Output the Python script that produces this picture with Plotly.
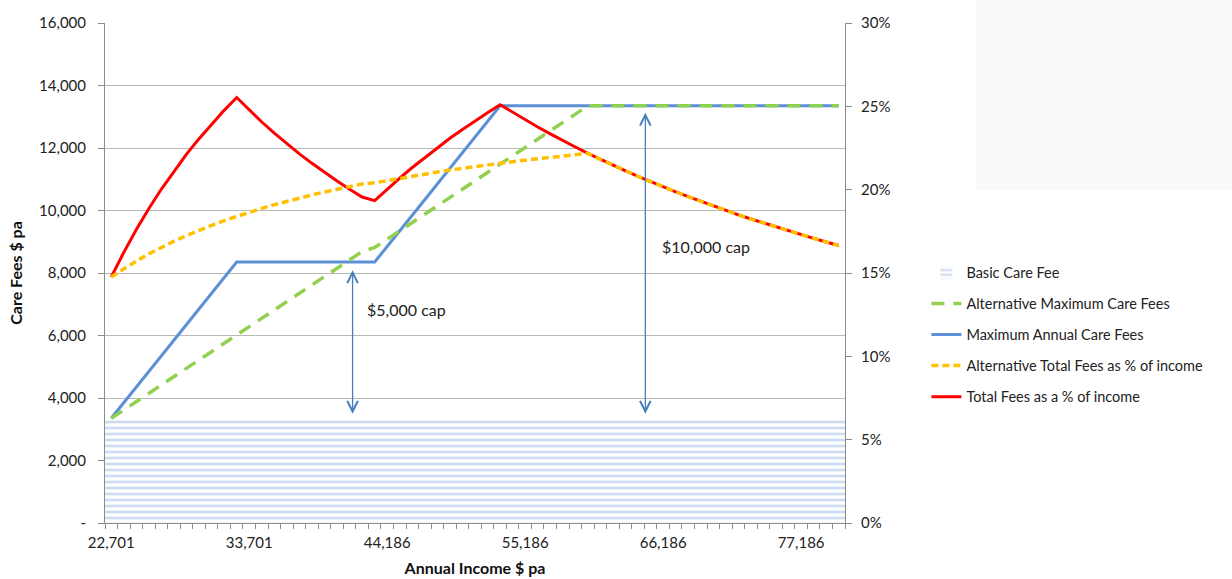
import plotly.graph_objects as go

# Annual income points (category axis)
income = [
    22701, 23701, 24701, 25701, 26701, 27701, 28701, 29701, 30701, 31701,
    32701, 33701, 34701, 35701, 36701, 37701, 38701, 39701, 40701, 41701,
    42701, 43186, 44186, 45186, 46186, 47186, 48186, 49186, 50186, 51186,
    52186, 53186, 54186, 55186, 56186, 57186, 58186, 59186, 60186, 61186,
    62186, 63186, 64186, 65186, 66186, 67186, 68186, 69186, 70186, 71186,
    72186, 73186, 74186, 75186, 76186, 77186, 78186, 79186, 80186,
]

# Labelled incomes on the x axis
income_tick_labels = ["22,701", "33,701", "44,186", "55,186", "66,186", "77,186"]

# Care fees, $ pa (left axis)
basic_care_fee = [
    3350, 3350, 3350, 3350, 3350, 3350, 3350, 3350, 3350, 3350,
    3350, 3350, 3350, 3350, 3350, 3350, 3350, 3350, 3350, 3350,
    3350, 3350, 3350, 3350, 3350, 3350, 3350, 3350, 3350, 3350,
    3350, 3350, 3350, 3350, 3350, 3350, 3350, 3350, 3350, 3350,
    3350, 3350, 3350, 3350, 3350, 3350, 3350, 3350, 3350, 3350,
    3350, 3350, 3350, 3350, 3350, 3350, 3350, 3350, 3350,
]

max_annual_care_fees = [
    3350, 3850, 4350, 4850, 5350, 5850, 6350, 6850, 7350, 7850,
    8350, 8350, 8350, 8350, 8350, 8350, 8350, 8350, 8350, 8350,
    8350, 8350, 8850, 9350, 9850, 10350, 10850, 11350, 11850, 12350,
    12850, 13350, 13350, 13350, 13350, 13350, 13350, 13350, 13350, 13350,
    13350, 13350, 13350, 13350, 13350, 13350, 13350, 13350, 13350, 13350,
    13350, 13350, 13350, 13350, 13350, 13350, 13350, 13350, 13350,
]

alt_max_care_fees = [
    3350, 3617, 3884, 4150, 4417, 4684, 4951, 5217, 5484, 5751,
    6018, 6284, 6551, 6818, 7085, 7352, 7618, 7885, 8152, 8419,
    8685, 8815, 9082, 9348, 9615, 9882, 10149, 10416, 10682, 10949,
    11216, 11483, 11749, 12016, 12283, 12550, 12816, 13083, 13350, 13350,
    13350, 13350, 13350, 13350, 13350, 13350, 13350, 13350, 13350, 13350,
    13350, 13350, 13350, 13350, 13350, 13350, 13350, 13350, 13350,
]

# Fees as a share of income (right axis)
total_fees_pct = [
    0.1476, 0.1624, 0.1761, 0.1887, 0.2004, 0.2112, 0.2213, 0.2306, 0.2394, 0.2476,
    0.2553, 0.2478, 0.2406, 0.2339, 0.2275, 0.2215, 0.2158, 0.2103, 0.2052, 0.2002,
    0.1956, 0.1934, 0.2003, 0.2069, 0.2133, 0.2193, 0.2252, 0.2308, 0.2361, 0.2413,
    0.2462, 0.2510, 0.2464, 0.2419, 0.2376, 0.2335, 0.2294, 0.2256, 0.2218, 0.2182,
    0.2147, 0.2113, 0.2080, 0.2048, 0.2017, 0.1987, 0.1958, 0.1930, 0.1902, 0.1875,
    0.1849, 0.1824, 0.1800, 0.1776, 0.1752, 0.1730, 0.1708, 0.1686, 0.1665,
]

alt_total_fees_pct = [
    0.1476, 0.1526, 0.1572, 0.1615, 0.1654, 0.1691, 0.1725, 0.1757, 0.1786, 0.1814,
    0.1840, 0.1865, 0.1888, 0.1910, 0.1931, 0.1950, 0.1968, 0.1986, 0.2003, 0.2019,
    0.2034, 0.2041, 0.2055, 0.2069, 0.2082, 0.2094, 0.2106, 0.2118, 0.2129, 0.2139,
    0.2149, 0.2159, 0.2168, 0.2177, 0.2186, 0.2195, 0.2203, 0.2211, 0.2218, 0.2182,
    0.2147, 0.2113, 0.2080, 0.2048, 0.2017, 0.1987, 0.1958, 0.1930, 0.1902, 0.1875,
    0.1849, 0.1824, 0.1800, 0.1776, 0.1752, 0.1730, 0.1708, 0.1686, 0.1665,
]

left_ticks = [0, 2000, 4000, 6000, 8000, 10000, 12000, 14000, 16000]
left_tick_text = ["-", "2,000", "4,000", "6,000", "8,000", "10,000", "12,000", "14,000", "16,000"]
right_ticks = [0, 0.05, 0.10, 0.15, 0.20, 0.25, 0.30]

FONT = "Lato"
AXIS_GREY = "#8C8C8C"
GRID_GREY = "#B8B8B8"

categories = [f"{v:,}" for v in income]
tick_text = [c if c in income_tick_labels else "" for c in categories]

fig = go.Figure()

fig.add_trace(go.Bar(
    x=categories, y=basic_care_fee, name="Basic Care Fee",
    marker=dict(color="white", line=dict(width=0),
                pattern=dict(shape="-", fgcolor="#9BBAE4", size=6, solidity=0.45)),
    legendrank=1, legendgroup="g1",
))
fig.add_trace(go.Scatter(
    x=categories, y=max_annual_care_fees, name="Maximum Annual Care Fees",
    mode="lines", line=dict(color="#5B8FD6", width=3),
    legendrank=3, legendgroup="g3",
))
fig.add_trace(go.Scatter(
    x=categories, y=alt_max_care_fees, name="Alternative Maximum Care Fees",
    mode="lines", line=dict(color="#92D050", width=3.5, dash="13px,9px"),
    legendrank=2, legendgroup="g2",
))
fig.add_trace(go.Scatter(
    x=categories, y=total_fees_pct, name="Total Fees as a % of income",
    mode="lines", line=dict(color="#FF0000", width=3), yaxis="y2",
    legendrank=5, legendgroup="g5",
))
fig.add_trace(go.Scatter(
    x=categories, y=alt_total_fees_pct, name="Alternative Total Fees as % of income",
    mode="lines", line=dict(color="#FFC000", width=3.5, dash="7px,4px"), yaxis="y2",
    legendrank=4, legendgroup="g4",
))

arrow_color = "#4A7EBB"
annotations = []
# double-headed cap arrows
for xpos, y_top in [(19.24, 8090), (42.58, 13130)]:
    annotations.append(dict(
        x=xpos, y=y_top, ax=xpos, ay=3450, xref="x", yref="y", axref="x", ayref="y",
        text="", showarrow=True, arrowhead=5, startarrowhead=5, arrowside="end+start",
        arrowsize=1.6, startarrowsize=1.6, arrowwidth=1.3, arrowcolor=arrow_color,
        standoff=0, startstandoff=0,
    ))
annotations.append(dict(x=20.24, y=6840, xref="x", yref="y", text="$5,000 cap",
                        showarrow=False, xanchor="left", yanchor="middle",
                        font=dict(family=FONT, size=16, color="#222222")))
annotations.append(dict(x=43.78, y=8860, xref="x", yref="y", text="$10,000 cap",
                        showarrow=False, xanchor="left", yanchor="middle",
                        font=dict(family=FONT, size=16, color="#222222")))

fig.update_layout(
    width=1232, height=579, autosize=False,
    margin=dict(l=105, r=387, t=23, b=56),
    paper_bgcolor="white", plot_bgcolor="white",
    font=dict(family=FONT, size=15, color="#333333"),
    bargap=0,
    showlegend=True,
    legend=dict(x=1.11, y=0.533, xanchor="left", yanchor="top",
                font=dict(family=FONT, size=14.5, color="#222222"),
                tracegroupgap=9.2, bgcolor="rgba(0,0,0,0)"),
    xaxis=dict(
        type="category", range=[-0.5, len(categories) - 0.5],
        tickmode="array", tickvals=categories, ticktext=tick_text, tickangle=0,
        tickson="boundaries", ticks="outside", ticklen=5, tickcolor=AXIS_GREY,
        ticklabelstandoff=6,
        showline=True, linecolor=AXIS_GREY, linewidth=1, showgrid=False,
        automargin=False,
        tickfont=dict(family=FONT, size=15, color="#222222"),
        title=dict(text="Annual Income $ pa", standoff=12,
                   font=dict(family=FONT, size=16, color="#111111", weight="bold")),
    ),
    yaxis=dict(
        range=[0, 16000], tickmode="array", tickvals=left_ticks, ticktext=left_tick_text,
        ticks="outside", ticklen=6, tickcolor=AXIS_GREY, ticklabelstandoff=9,
        showline=True, linecolor=AXIS_GREY, linewidth=1,
        showgrid=True, gridcolor=GRID_GREY, gridwidth=1, zeroline=False,
        automargin=False,
        tickfont=dict(family=FONT, size=15, color="#222222"),
        title=dict(text="Care Fees $ pa", standoff=12,
                   font=dict(family=FONT, size=16, color="#111111", weight="bold")),
    ),
    yaxis2=dict(
        overlaying="y", side="right", range=[0, 0.30], tickmode="array",
        tickvals=right_ticks, tickformat=".0%",
        ticks="outside", ticklen=6, tickcolor=AXIS_GREY, ticklabelstandoff=6,
        showline=True, linecolor=AXIS_GREY, linewidth=1,
        showgrid=False, zeroline=False, automargin=False,
        tickfont=dict(family=FONT, size=15, color="#222222"),
    ),
    annotations=annotations,
    shapes=[dict(type="rect", xref="paper", yref="paper", x0=1.1765, x1=1.53,
                 y0=0.666, y1=1.05, fillcolor="#FAF9F7", line=dict(width=0), layer="below")],
)

fig.write_html("out.html")
